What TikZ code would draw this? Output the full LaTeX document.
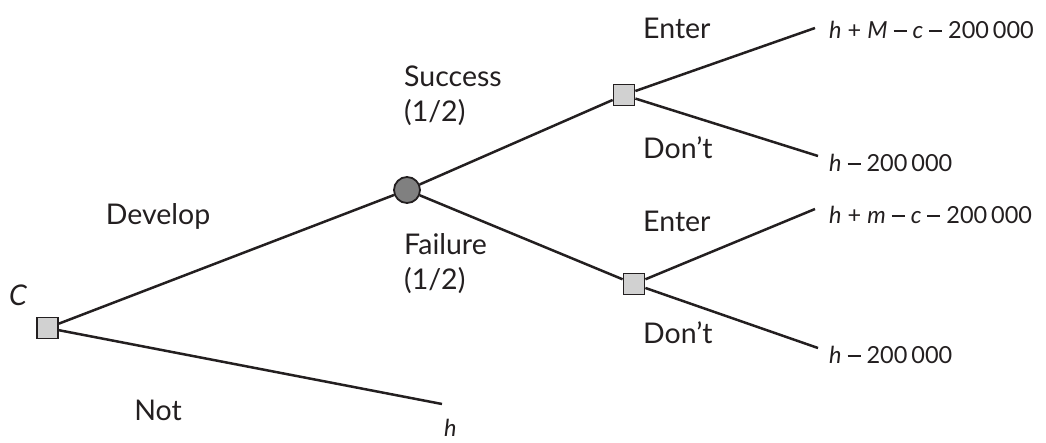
\documentclass[tikz,border=0pt]{standalone}
\usepackage{fontspec}
\setmainfont{Lato}
\definecolor{ink}{HTML}{231F20}
% a long minus drawn as a rule, with word spaces around it
\newcommand\mns{\ \rule[0.27em]{0.55em}{0.075em}\ }
\begin{document}
\begin{tikzpicture}[x=1pt,y=-1pt,
  every node/.style={text=ink},
  decision/.style={draw=ink, line width=1.8pt, fill=black!18, minimum size=21pt, inner sep=0pt},
  chance/.style={circle, draw=ink, line width=1.8pt, fill=black!50, minimum size=26pt, inner sep=0pt},
  branch/.style={line width=2.5pt, draw=ink},
  lbl/.style={inner sep=0pt, font=\fontsize{28.5}{32}\selectfont},
  payoff/.style={anchor=west, inner sep=0pt, font=\fontsize{23.5}{28}\selectfont}]
\useasboundingbox (0,0) rectangle (1046,442);
% decision and chance nodes
\node[decision] (root) at (47.5,328) {};
\node[chance] (dev) at (407,190) {};
\node[decision] (s) at (624,95) {};
\node[decision] (f) at (634,284) {};
% end points of the branches
\coordinate (notE) at (442,404);
\coordinate (sE) at (815,28);
\coordinate (sD) at (818,156);
\coordinate (fE) at (815,209);
\coordinate (fD) at (818,348);
% branches
\draw[branch] (root) -- (dev);
\draw[branch] (root) -- (notE);
\draw[branch] (dev) -- (s);
\draw[branch] (dev) -- (f);
\draw[branch] (s) -- (sE);
\draw[branch] (s) -- (sD);
\draw[branch] (f) -- (fE);
\draw[branch] (f) -- (fD);
% branch labels
\node[lbl] (lc) at (18,295) {\itshape C};
\node[lbl] (ldev) at (158,216) {Develop};
\node[lbl] (lnot) at (158,410) {Not};
\node[lbl, anchor=west] (lsuc) at (404,76) {Success};
\node[lbl, anchor=west] (lsucp) at (404,113) {(1/2)};
\node[lbl, anchor=west] (lfail) at (404,244) {Failure};
\node[lbl, anchor=west] (lfailp) at (404,281) {(1/2)};
\node[lbl, anchor=west] (lse) at (643,28) {Enter};
\node[lbl, anchor=west] (lsd) at (643,148) {Don't};
\node[lbl, anchor=west] (lfe) at (643,221) {Enter};
\node[lbl, anchor=west] (lfd) at (643,333) {Don't};
% payoffs
\node[payoff] (p1) at (829,30) {\itshape h\upshape{} + \itshape M\upshape\mns\itshape c\upshape\mns 200\,000};
\node[payoff] (p2) at (829,163) {\itshape h\upshape\mns 200\,000};
\node[payoff] (p3) at (829,215) {\itshape h\upshape{} + \itshape m\upshape\mns\itshape c\upshape\mns 200\,000};
\node[payoff] (p4) at (829,355) {\itshape h\upshape\mns 200\,000};
\node[payoff] (p5) at (444,428) {\itshape h};
\end{tikzpicture}
\end{document}
